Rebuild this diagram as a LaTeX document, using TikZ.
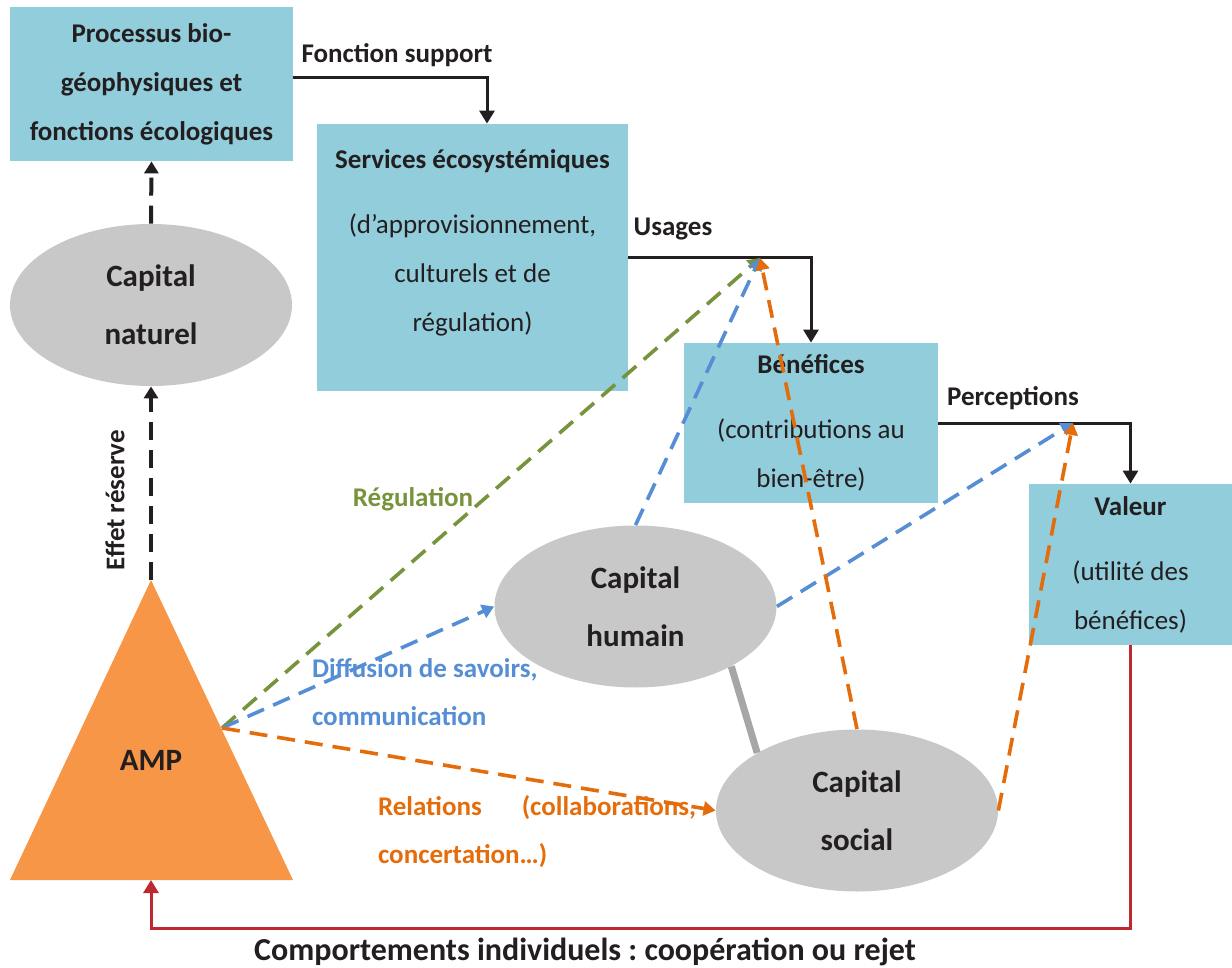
\documentclass[tikz,border=0pt]{standalone}
\usepackage{fontspec}
\setmainfont{Carlito}
\usetikzlibrary{shapes.geometric,arrows.meta}
\frenchspacing

\definecolor{boitebleu}{HTML}{92CDDC}
\definecolor{capgris}{HTML}{C8C8C8}
\definecolor{amporange}{HTML}{F79646}
\definecolor{vert}{HTML}{77933C}
\definecolor{bleu}{HTML}{558ED5}
\definecolor{orangefonce}{HTML}{E46C0A}
\definecolor{rouge}{HTML}{C0282F}
\definecolor{encre}{HTML}{231F20}

\tikzset{
  boite/.style={rectangle, fill=boitebleu, inner sep=0pt, align=center, text=encre,
    font=\fontsize{13.5}{24.5}\selectfont},
  capital/.style={ellipse, fill=capgris, inner sep=0pt, align=center, text=encre,
    minimum width=141pt, minimum height=81pt, font=\fontsize{15.5}{29}\selectfont\bfseries},
  etiq/.style={font=\fontsize{13.5}{24}\selectfont\bfseries, text=encre},
  fleche/.style={line width=1.5pt, encre, -{Triangle[width=7.5pt,length=6.5pt]}},
  tirets/.style={line width=1.8pt, dash pattern=on 9pt off 5pt, -{Triangle[width=7pt,length=6pt]}}
}

\begin{document}
\begin{tikzpicture}[x=0.5pt, y=-0.5pt]
  \useasboundingbox (0,0) rectangle (1232,968);

  % boites
  \node [boite, minimum width=141.5pt, minimum height=77pt, font=\fontsize{13.5}{24.5}\selectfont\bfseries]
    (proc) at (151.5,84) {Processus bio-\\géophysiques et\\fonctions écologiques};
  \node [boite, minimum width=155.5pt, minimum height=133.5pt] (serv) at (472.5,257.5) {};
  \node [boite, fill=none] (servtxt) at (472.5,242.5)
    {\textbf{Services écosystémiques}\\[8pt](d'approvisionnement,\\culturels et de\\régulation)};
  \node [boite, minimum width=127pt, minimum height=80pt] (ben) at (811,423)
    {\textbf{Bénéfices}\\[8pt](contributions au\\bien-être)};
  \node [boite, minimum width=101.5pt, minimum height=80.5pt] (val) at (1130.5,564.5)
    {\textbf{Valeur}\\[8pt](utilité des\\bénéfices)};

  % capitaux
  \node [capital] (nat) at (151,305) {Capital\\naturel};
  \node [capital] (hum) at (635.5,606.5) {Capital\\humain};
  \node [capital] (soc) at (857,810.5) {Capital\\social};

  % AMP
  \coordinate (sommet) at (151,580);
  \coordinate (base) at (151,880);
  \coordinate (amp) at (222,728);
  \fill [amporange] (sommet) -- (293,880) -- (10,880) -- cycle;
  \node [font=\fontsize{15.5}{18}\selectfont\bfseries, text=encre] (amptxt) at (151,760) {AMP};

  % flux principal
  \coordinate (usg) at (760,258);
  \coordinate (perc) at (1073,423);
  \draw [fleche] ([yshift=3pt]proc.east) -| ([xshift=7.25pt]serv.north);
  \draw [fleche] (serv.east) -| (ben.north);
  \draw [fleche] (ben.east) -| (val.north);
  \node [etiq] (lfonc) at (397,55) {Fonction support};
  \node [etiq] (lusg) at (673,229) {Usages};
  \node [etiq] (lperc) at (1013,398) {Perceptions};

  % effet reserve
  \draw [tirets, line width=2pt, encre] (nat.north) -- (proc.south);
  \draw [tirets, line width=2pt, encre] (sommet) -- (nat.south);
  \node [etiq, rotate=90] (leff) at (115,500) {Effet réserve};

  % lien entre capitaux
  \draw [line width=3.5pt, black!35] (hum.-32) -- (soc.150);

  % retour
  \coordinate (retour) at (151,928);
  \draw [line width=1.5pt, rouge, -{Triangle[width=7.5pt,length=6.5pt]}] (val.south) |- (retour) -- (base);
  \node [font=\fontsize{16}{18}\selectfont\bfseries, text=encre] (lcomp) at (585,952)
    {Comportements individuels : coopération ou rejet};

  % influences
  \draw [tirets, vert] (amp) -- (usg);
  \draw [tirets, bleu] (amp) -- (hum.west);
  \draw [tirets, bleu] (hum.north) -- (usg);
  \draw [tirets, bleu] (hum.east) -- (perc);
  \draw [tirets, orangefonce] (amp) -- (soc.west);
  \draw [tirets, orangefonce] (soc.north) -- (usg);
  \draw [tirets, orangefonce] (soc.east) -- (perc);

  \node [etiq, text=vert] (lreg) at (413,499) {Régulation};
  \node [etiq, text=bleu, anchor=west, align=left] (ldif) at (305,692)
    {Diffusion de savoirs,\\communication};
  \node [etiq, text=orangefonce, anchor=west, align=left] (lrel) at (371,832)
    {Relations\hspace{20pt}(collaborations,\\concertation…)};
\end{tikzpicture}
\end{document}
